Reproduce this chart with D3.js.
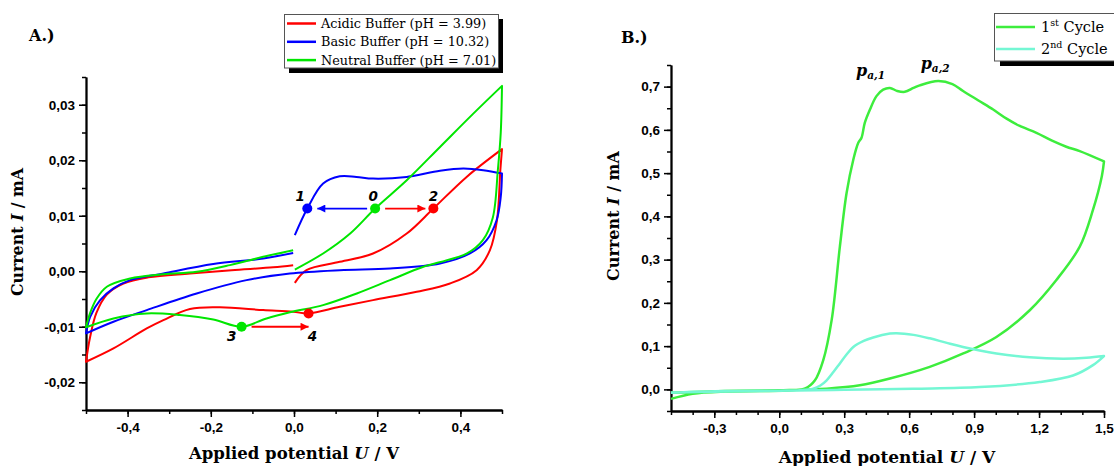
<!DOCTYPE html>
<html>
<head>
<meta charset="utf-8">
<script src="https://cdn.jsdelivr.net/npm/d3@7"></script>
<style>
  html, body { margin: 0; padding: 0; background: #ffffff; }
  svg { display: block; }
  .tick text { font-family: "Liberation Sans", Arial, sans-serif; font-weight: bold; font-size: 13.5px; fill: #000; }
  .axis path, .axis line { stroke: #000; }
  .axis path { stroke-width: 1.8px; }
  .axis line { stroke-width: 1.5px; }
</style>
</head>
<body>
<svg id="fig" width="1114" height="466"></svg>
<script>
// ---- Panel A: cyclic voltammograms in three buffers (potential V, current mA) ----
const acidicCV = [
  [0.002,-0.0021],[0.03,0.0002],[0.11,0.0017],[0.19,0.0032],[0.271,0.0068],[0.335,0.0113],[0.415,0.017],[0.5,0.022],
  [0.496,0.0182],[0.488,0.0092],[0.471,0.0038],[0.439,0.0002],[0.375,-0.0022],[0.295,-0.0037],[0.19,-0.0052],[0.11,-0.0064],[0.035,-0.0076],
  [-0.002,-0.0073],[-0.074,-0.007],[-0.178,-0.0065],[-0.25,-0.0068],[-0.314,-0.0088],[-0.354,-0.0103],[-0.434,-0.0139],[-0.5,-0.0163],
  [-0.49,-0.0118],[-0.475,-0.0075],[-0.45,-0.0042],[-0.41,-0.0022],[-0.35,-0.0011],[-0.25,-0.0004],[-0.15,0.0002],[-0.05,0.0007],[-0.002,0.0011]
];
const basicCV = [
  [0.002,0.0065],[0.032,0.0113],[0.07,0.0158],[0.11,0.0171],[0.15,0.017],[0.19,0.0167],[0.271,0.017],[0.351,0.0181],[0.407,0.0185],[0.455,0.0182],[0.5,0.0176],
  [0.497,0.0134],[0.487,0.0092],[0.463,0.0056],[0.423,0.0032],[0.351,0.0014],[0.231,0.0005],[0.11,0.0002],[-0.01,-0.0004],[-0.114,-0.0016],[-0.234,-0.004],[-0.354,-0.007],[-0.434,-0.0091],[-0.5,-0.0112],
  [-0.49,-0.0082],[-0.466,-0.0052],[-0.434,-0.0031],[-0.394,-0.0016],[-0.314,-0.0004],[-0.194,0.0013],[-0.074,0.0023],[-0.002,0.0033]
];
const neutralCV = [
  [0.002,0.0003],[0.07,0.0032],[0.135,0.0068],[0.195,0.0113],[0.271,0.0164],[0.351,0.0224],[0.431,0.0284],[0.5,0.0334],
  [0.497,0.025],[0.49,0.0182],[0.478,0.0097],[0.454,0.0056],[0.416,0.0032],[0.368,0.002],[0.311,0.0008],[0.231,-0.0016],[0.151,-0.004],[0.07,-0.0061],[-0.01,-0.0074],
  [-0.066,-0.0085],[-0.126,-0.01],[-0.194,-0.0087],[-0.274,-0.0079],[-0.354,-0.0076],[-0.434,-0.0085],[-0.5,-0.0101],
  [-0.49,-0.0075],[-0.475,-0.005],[-0.45,-0.0028],[-0.394,-0.0013],[-0.314,-0.00055],[-0.234,-0.0001],[-0.154,0.0011],[-0.074,0.0026],[-0.002,0.0038]
];
const seriesNamesA = ["Acidic Buffer (pH = 3.99)", "Basic Buffer (pH = 10.32)", "Neutral Buffer (pH = 7.01)"];
const seriesColorsA = ["#ff0000", "#0000ff", "#00e600"];

// numbered reference points on the curves
const markerLabels = ["0", "1", "2", "3", "4"];
const markerV = [0.195, 0.032, 0.335, -0.126, 0.035];
const markerI = [0.0113, 0.0113, 0.0113, -0.01, -0.0076];
const markerColors = ["#00e600", "#0000ff", "#ff0000", "#00e600", "#ff0000"];

const yTicksA = [-0.02, -0.01, 0.00, 0.01, 0.02, 0.03];
const xTicksA = [-0.4, -0.2, 0.0, 0.2, 0.4];

// ---- Panel B: first and second cycle (potential V, current mA) ----
const cycle1 = [
  [-0.5,-0.022],[-0.4,-0.01],[-0.25,-0.005],[-0.09,-0.004],[0.06,-0.002],[0.12,0.002],[0.165,0.021],[0.203,0.067],[0.242,0.16],[0.28,0.33],
  [0.311,0.454],[0.342,0.531],[0.365,0.57],[0.38,0.582],[0.395,0.616],[0.419,0.647],[0.449,0.678],[0.48,0.693],[0.511,0.697],[0.545,0.69],
  [0.58,0.688],[0.62,0.697],[0.649,0.703],[0.734,0.713],[0.8,0.706],[0.849,0.69],[0.92,0.668],[0.988,0.647],[1.05,0.626],[1.111,0.609],
  [1.188,0.593],[1.26,0.575],[1.326,0.561],[1.388,0.551],[1.5,0.527],
  [1.49,0.493],[1.449,0.415],[1.388,0.33],[1.28,0.253],[1.157,0.183],[1.003,0.121],[0.85,0.083],[0.695,0.052],[0.511,0.025],[0.372,0.0093],
  [0.219,0.0016],[0.0,-0.002],[-0.25,-0.004],[-0.5,-0.008]
];
const cycle2 = [
  [-0.5,-0.008],[-0.25,-0.004],[0.0,-0.003],[0.095,-0.002],[0.157,0.0016],[0.19,0.009],[0.219,0.021],[0.25,0.04],[0.28,0.06],[0.31,0.08],
  [0.342,0.098],[0.39,0.112],[0.434,0.12],[0.511,0.129],[0.542,0.13],[0.62,0.126],[0.695,0.118],[0.77,0.108],[0.849,0.098],[1.003,0.083],
  [1.157,0.074],[1.311,0.071],[1.419,0.073],[1.5,0.077],
  [1.449,0.056],[1.357,0.032],[1.203,0.017],[0.926,0.0053],[0.619,0.0016],[0.3,-0.001],[0.0,-0.003],[-0.25,-0.005],[-0.5,-0.007]
];
const cycleNames = ["1", "2"];
const cycleSuffix = ["st", "nd"];
const cycleColors = ["#3ded3d", "#74f7d4"];

// anodic peak labels
const peakSub = ["a,1", "a,2"];
const peakV = [0.5, 0.734];
const peakI = [0.697, 0.713];

const yTicksB = [0.0, 0.1, 0.2, 0.3, 0.4, 0.5, 0.6, 0.7];
const xTicksB = [-0.3, 0.0, 0.3, 0.6, 0.9, 1.2, 1.5];

// ---------------------------------------------------------------
const svg = d3.select("#fig");
const loc = d3.formatLocale({decimal: ",", thousands: ".", grouping: [3], currency: ["", ""], minus: "-"});
const serif = "'DejaVu Serif', serif";

// Split a sweep into monotone branches so the turning points stay sharp
function sweepPath(pts, x, y) {
  const segs = [];
  let cur = [pts[0]];
  for (let i = 1; i < pts.length; i++) {
    cur.push(pts[i]);
    if (i < pts.length - 1) {
      const d1 = pts[i][0] - pts[i - 1][0], d2 = pts[i + 1][0] - pts[i][0];
      if (d1 * d2 < 0) { segs.push(cur); cur = [pts[i]]; }
    }
  }
  segs.push(cur);
  const line = d3.line().x(d => x(d[0])).y(d => y(d[1])).curve(d3.curveCatmullRom.alpha(0.5));
  return segs.map((s, i) => i ? line(s).replace(/^M/, "L") : line(s)).join("");
}

function drawAxes(g, x, y, xMajor, xMinor, yMajor, yMinor, xFmt, yFmt) {
  const h = y.range()[0];
  const left = x.range()[0];
  g.append("g").attr("class", "axis").attr("transform", `translate(0,${h})`)
    .call(d3.axisBottom(x).tickValues(xMinor).tickSize(4).tickSizeOuter(0).tickFormat(""));
  g.append("g").attr("class", "axis").attr("transform", `translate(0,${h})`)
    .call(d3.axisBottom(x).tickValues(xMajor).tickSize(7).tickSizeOuter(0).tickPadding(5).tickFormat(xFmt));
  g.append("g").attr("class", "axis").attr("transform", `translate(${left},0)`)
    .call(d3.axisLeft(y).tickValues(yMinor).tickSize(4).tickSizeOuter(0).tickFormat(""));
  g.append("g").attr("class", "axis").attr("transform", `translate(${left},0)`)
    .call(d3.axisLeft(y).tickValues(yMajor).tickSize(7).tickSizeOuter(0).tickPadding(4).tickFormat(yFmt));
}

function axisTitles(g, cx, cy, yx, yy, xSize, ySize) {
  const t = g.append("text").attr("x", cx).attr("y", cy).attr("text-anchor", "middle")
    .style("font-family", serif).style("font-weight", "bold").style("font-size", xSize + "px");
  t.append("tspan").text("Applied potential ");
  t.append("tspan").style("font-style", "italic").text("U");
  t.append("tspan").text(" / V");
  const r = g.append("text").attr("transform", `translate(${yx},${yy}) rotate(-90)`).attr("text-anchor", "middle")
    .style("font-family", serif).style("font-weight", "bold").style("font-size", ySize + "px");
  r.append("tspan").text("Current ");
  r.append("tspan").style("font-style", "italic").text("I");
  r.append("tspan").text(" / mA");
}

const range = (a, b, s) => d3.range(Math.round((b - a) / s) + 1).map(i => +(a + i * s).toFixed(4));

// ===================== Panel A =====================
{
  const g = svg.append("g");
  const x = d3.scaleLinear().domain([-0.5, 0.5]).range([86, 502]);
  const y = d3.scaleLinear().domain([-0.025, 0.035]).range([410, 77]);

  drawAxes(g, x, y, xTicksA, range(-0.5, 0.5, 0.1), yTicksA, range(-0.025, 0.035, 0.005),
    loc.format(".1f"), loc.format(".2f"));
  axisTitles(g, 294, 459, 23, 232, 16.5, 15.8);

  g.append("text").attr("x", 29).attr("y", 41).text("A.)")
    .style("font-family", serif).style("font-weight", "bold").style("font-size", "16px");

  [acidicCV, basicCV, neutralCV].forEach((cv, i) => {
    g.append("path").attr("d", sweepPath(cv, x, y)).attr("fill", "none")
      .attr("stroke", seriesColorsA[i]).attr("stroke-width", 2).attr("stroke-linejoin", "round");
  });

  // arrows between reference points
  const defs = svg.append("defs");
  ["#0000ff", "#ff0000"].forEach((c, i) => {
    defs.append("marker").attr("id", "ah" + i).attr("viewBox", "0 0 10 10").attr("refX", 10).attr("refY", 5)
      .attr("markerWidth", 10).attr("markerHeight", 8).attr("markerUnits", "userSpaceOnUse").attr("orient", "auto")
      .append("path").attr("d", "M0,0L10,5L0,10Z").attr("fill", c);
  });
  const P = markerLabels.map((l, i) => ({x: x(markerV[i]), y: y(markerI[i])}));
  const arrows = [
    {from: P[0], to: P[1], gapA: 8, gapB: 10, m: 0, c: "#0000ff"},
    {from: P[0], to: P[2], gapA: 10, gapB: 8, m: 1, c: "#ff0000"},
    {from: P[3], to: {x: P[4].x, y: P[3].y}, gapA: 10, gapB: 0, m: 1, c: "#ff0000"}
  ];
  arrows.forEach(a => {
    const dir = Math.sign(a.to.x - a.from.x);
    g.append("line").attr("x1", a.from.x + dir * a.gapA).attr("y1", a.from.y)
      .attr("x2", a.to.x - dir * a.gapB).attr("y2", a.from.y)
      .attr("stroke", a.c).attr("stroke-width", 1.8).attr("marker-end", `url(#ah${a.m})`);
  });
  g.selectAll("circle.pt").data(P).join("circle").attr("class", "pt")
    .attr("cx", d => d.x).attr("cy", d => d.y).attr("r", 5).attr("fill", (d, i) => markerColors[i]);
  const labelOffset = [[-2, -8], [-7, -8], [0, -8], [-10, 14], [4, 28]];
  g.selectAll("text.num").data(P).join("text").attr("class", "num")
    .attr("x", (d, i) => d.x + labelOffset[i][0]).attr("y", (d, i) => d.y + labelOffset[i][1])
    .attr("text-anchor", "middle").text((d, i) => markerLabels[i])
    .style("font-family", "'DejaVu Sans', sans-serif").style("font-weight", "bold").style("font-style", "italic").style("font-size", "13.5px");

  // legend
  const lg = g.append("g");
  lg.append("rect").attr("x", 289).attr("y", 19).attr("width", 214).attr("height", 54).attr("fill", "#000");
  lg.append("rect").attr("x", 284.5).attr("y", 14.5).attr("width", 214).attr("height", 53.5)
    .attr("fill", "#fff").attr("stroke", "#555").attr("stroke-width", 1);
  seriesNamesA.forEach((n, i) => {
    const yy = 23.5 + i * 18.3;
    lg.append("line").attr("x1", 287).attr("x2", 316).attr("y1", yy).attr("y2", yy)
      .attr("stroke", seriesColorsA[i]).attr("stroke-width", 2.5);
    lg.append("text").attr("x", 321).attr("y", yy + 4.5).text(n)
      .style("font-family", serif).style("font-size", "12.8px");
  });
}

// ===================== Panel B =====================
{
  const g = svg.append("g");
  const x = d3.scaleLinear().domain([-0.5, 1.5]).range([671, 1104]);
  const y = d3.scaleLinear().domain([-0.05, 0.75]).range([411, 65]);

  drawAxes(g, x, y, xTicksB, range(-0.5, 1.5, 0.1), yTicksB, range(-0.05, 0.75, 0.05),
    loc.format(".1f"), loc.format(".1f"));
  axisTitles(g, 887, 463, 619, 216, 17, 16);

  g.append("text").attr("x", 621).attr("y", 43).text("B.)")
    .style("font-family", serif).style("font-weight", "bold").style("font-size", "16px");

  [cycle1, cycle2].forEach((cv, i) => {
    g.append("path").attr("d", sweepPath(cv, x, y)).attr("fill", "none")
      .attr("stroke", cycleColors[i]).attr("stroke-width", 2.5).attr("stroke-linejoin", "round");
  });

  const peakOffset = [[-17, -12], [-3, -12]];
  peakSub.forEach((s, i) => {
    const t = g.append("text").attr("x", x(peakV[i]) + peakOffset[i][0]).attr("y", y(peakI[i]) + peakOffset[i][1])
      .attr("text-anchor", "middle").style("font-family", serif).style("font-weight", "bold").style("font-style", "italic");
    t.append("tspan").style("font-size", "16px").text("p");
    t.append("tspan").style("font-size", "10.5px").attr("dy", 3).text(s);
  });

  // legend
  const lg = g.append("g");
  lg.append("rect").attr("x", 1000).attr("y", 19).attr("width", 130).attr("height", 47).attr("fill", "#000");
  lg.append("rect").attr("x", 994.5).attr("y", 13.5).attr("width", 130).attr("height", 47.5)
    .attr("fill", "#fff").attr("stroke", "#555").attr("stroke-width", 1);
  cycleNames.forEach((n, i) => {
    const yy = 27 + i * 22;
    lg.append("line").attr("x1", 996).attr("x2", 1035).attr("y1", yy).attr("y2", yy)
      .attr("stroke", cycleColors[i]).attr("stroke-width", 2.5);
    const t = lg.append("text").attr("x", 1041).attr("y", yy + 5)
      .style("font-family", serif).style("font-size", "14.5px");
    t.append("tspan").text(n);
    t.append("tspan").style("font-size", "9.5px").attr("dy", -6).text(cycleSuffix[i]);
    t.append("tspan").attr("dy", 6).text(" Cycle");
  });
}
</script>
</body>
</html>
